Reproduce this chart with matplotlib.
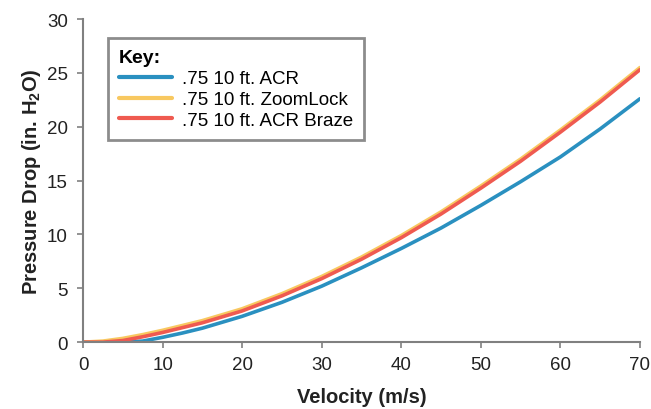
import numpy as np
import matplotlib
matplotlib.use("Agg")
import matplotlib.pyplot as plt

# data
velocity = [0, 2.5, 5, 7.5, 10, 12.5, 15, 20, 25, 30, 35, 40, 45, 50, 55, 60, 65, 70]
acr = [0, 0, 0, 0.1, 0.45, 0.85, 1.3, 2.4, 3.7, 5.2, 6.9, 8.7, 10.6, 12.7, 14.9, 17.2, 19.8, 22.6]
zoomlock = [0, 0.1, 0.35, 0.7, 1.1, 1.55, 2.0, 3.1, 4.5, 6.1, 7.9, 9.9, 12.1, 14.5, 17.0, 19.7, 22.5, 25.5]
acr_braze = [0, 0, 0.15, 0.5, 0.9, 1.35, 1.8, 2.9, 4.3, 5.9, 7.7, 9.7, 11.9, 14.3, 16.8, 19.5, 22.3, 25.3]
labels = ['.75 10 ft. ACR', '.75 10 ft. ZoomLock', '.75 10 ft. ACR Braze']
colors = ['#2a90c0', '#f8c860', '#ef5a50']

plt.rcParams['font.family'] = 'Liberation Sans'
plt.rcParams['mathtext.fontset'] = 'custom'
plt.rcParams['mathtext.rm'] = 'Liberation Sans:bold'
plt.rcParams['mathtext.bf'] = 'Liberation Sans:bold'

fig = plt.figure(figsize=(6.51, 4.10), dpi=100)
ax = fig.add_axes([0.1275, 0.163, 0.8555, 0.788])

for ys, c, lab in zip([acr, zoomlock, acr_braze], colors, labels):
    ax.plot(velocity, ys, color=c, linewidth=2.6, label=lab, solid_capstyle='round')

ax.set_xlim(0, 70)
ax.set_ylim(0, 30)
ax.set_xticks(np.arange(0, 71, 10))
ax.set_yticks(np.arange(0, 31, 5))
ax.spines['top'].set_visible(False)
ax.spines['right'].set_visible(False)
for s in ['left', 'bottom']:
    ax.spines[s].set_color('#808080')
    ax.spines[s].set_linewidth(1.5)
ax.tick_params(axis='both', direction='out', length=4, width=1.2, color='#808080',
               labelsize=13.5, labelcolor='#222222')
ax.tick_params(axis='y', pad=7)
ax.tick_params(axis='x', pad=6)

ax.set_xlabel('Velocity (m/s)', fontsize=14.5, fontweight='bold', color='#222222',
              labelpad=10)
ax.set_ylabel(r'Pressure Drop (in. H$_\mathbf{2}$O)', fontsize=14.5, fontweight='bold',
              color='#222222', labelpad=3)

leg = ax.legend(loc='upper left', bbox_to_anchor=(0.028, 0.97), title='Key:',
                fontsize=13.5, frameon=True, fancybox=False, handlelength=2.8,
                borderpad=0.6, labelspacing=0.2, handletextpad=0.55)
leg.get_title().set_fontweight('bold')
leg.get_title().set_fontsize(14)
leg._legend_box.align = 'left'
leg.get_frame().set_edgecolor('#707070')
leg.get_frame().set_linewidth(2)
for line in leg.get_lines():
    line.set_linewidth(3)

fig.savefig('out.png', dpi=100)
